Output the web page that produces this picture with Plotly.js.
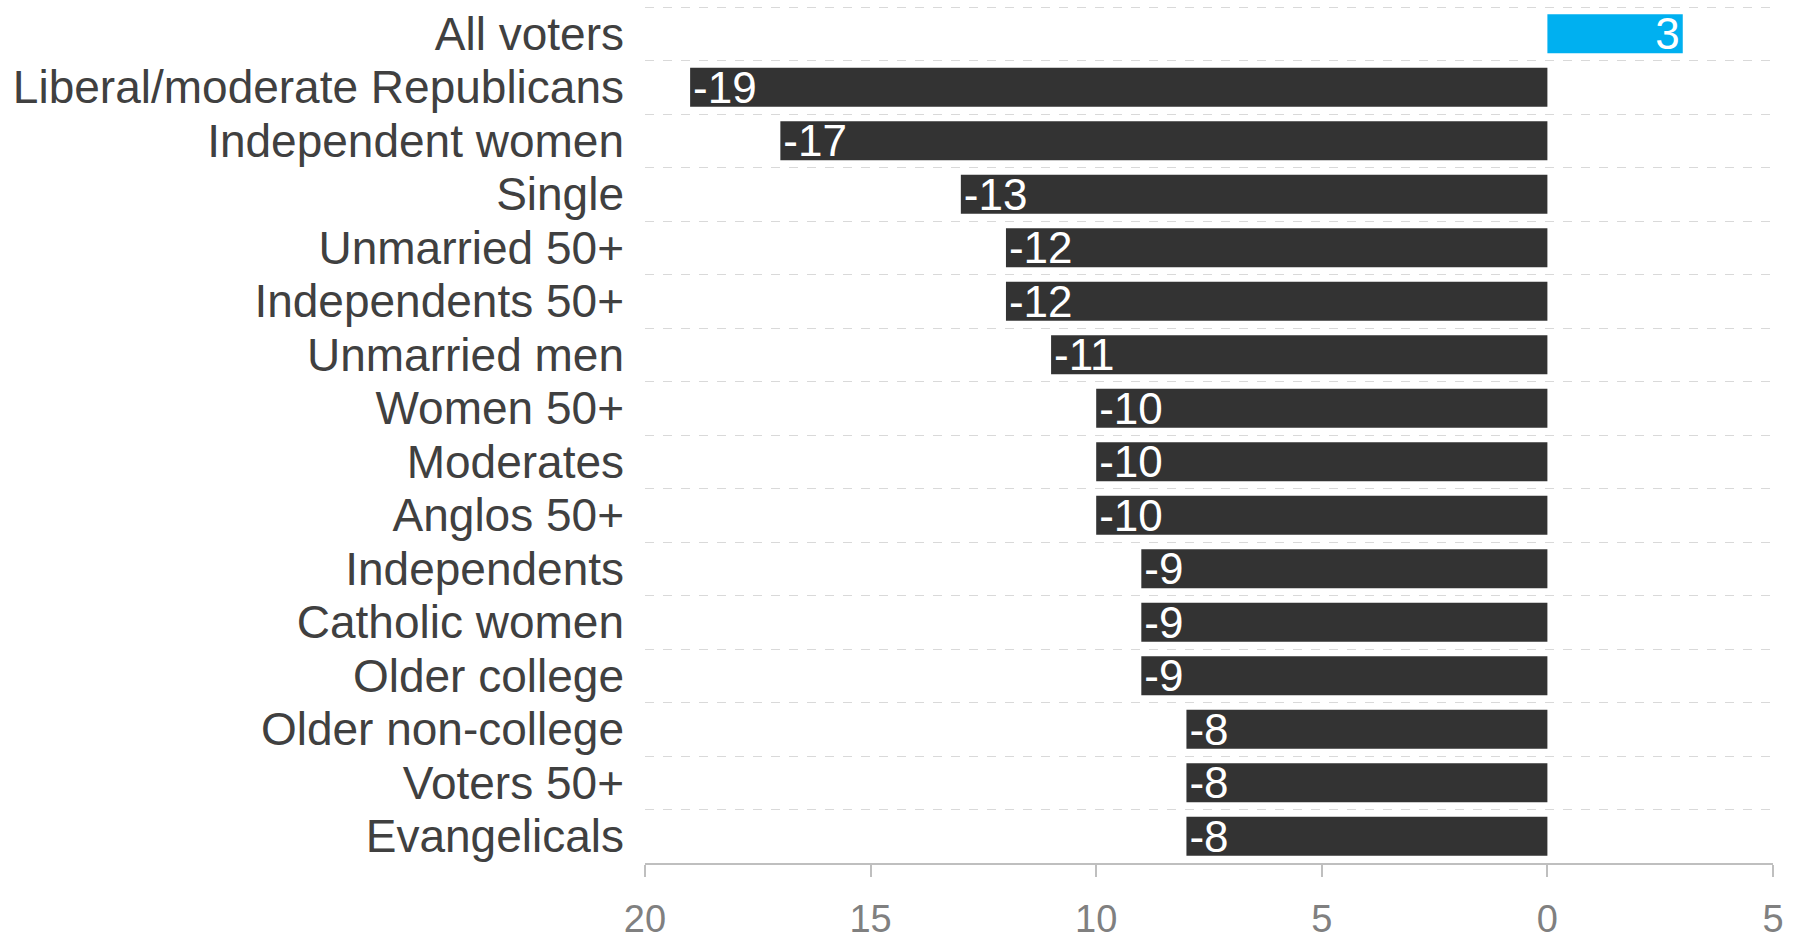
<!DOCTYPE html>
<html>
<head>
<meta charset="utf-8">
<script src="https://cdn.plot.ly/plotly-3.0.1.min.js"></script>
<style>html,body{margin:0;padding:0;background:#fff;}#chart{width:1797px;height:937px;}</style>
</head>
<body>
<div id="chart"></div>
<script>
const categories = ["All voters","Liberal/moderate Republicans","Independent women","Single","Unmarried 50+","Independents 50+","Unmarried men","Women 50+","Moderates","Anglos 50+","Independents","Catholic women","Older college","Older non-college","Voters 50+","Evangelicals"];
const values = [3,-19,-17,-13,-12,-12,-11,-10,-10,-10,-9,-9,-9,-8,-8,-8];
const tickValues = [-20,-15,-10,-5,0,5];
const tickLabels = ["20","15","10","5","0","5"];

const colors = values.map(v => v >= 0 ? "#00B0F0" : "#333333");

const trace = {
  type: "bar",
  orientation: "h",
  y: categories,
  x: values,
  marker: {color: colors, line: {width: 0}},
  text: values.map(String),
  textposition: "inside",
  insidetextanchor: "end",
  constraintext: "none",
  textangle: 0,
  textfont: {family: "Liberation Sans, Arial, sans-serif", size: 44, color: "#FFFFFF"},
  hoverinfo: "none",
  cliponaxis: false
};

const layout = {
  width: 1797,
  height: 937,
  margin: {l: 645, r: 24, t: 6, b: 74},
  paper_bgcolor: "#FFFFFF",
  plot_bgcolor: "#FFFFFF",
  bargap: 0.27,
  showlegend: false,
  font: {family: "Liberation Sans, Arial, sans-serif"},
  xaxis: {
    range: [-20, 5],
    tickmode: "array",
    tickvals: tickValues,
    ticktext: tickLabels,
    showgrid: false,
    zeroline: false,
    showline: true,
    linecolor: "#BFBFBF",
    linewidth: 2,
    ticks: "outside",
    ticklen: 12,
    tickwidth: 2,
    tickcolor: "#BFBFBF",
    ticklabelstandoff: 9,
    tickfont: {family: "Liberation Sans, Arial, sans-serif", size: 38, color: "#808080"},
    fixedrange: true
  },
  yaxis: {
    type: "category",
    range: [15.5, -0.52],
    tickmode: "array",
    tickvals: categories,
    ticktext: categories,
    tickson: "boundaries",
    showgrid: true,
    gridcolor: "#D9D9D9",
    gridwidth: 1,
    griddash: "dash",
    ticks: "",
    showline: false,
    zeroline: false,
    ticklabelstandoff: 20,
    tickfont: {family: "Liberation Sans, Arial, sans-serif", size: 46, color: "#404040"},
    fixedrange: true
  }
};

Plotly.newPlot("chart", [trace], layout, {displayModeBar: false, staticPlot: true});
</script>
</body>
</html>
